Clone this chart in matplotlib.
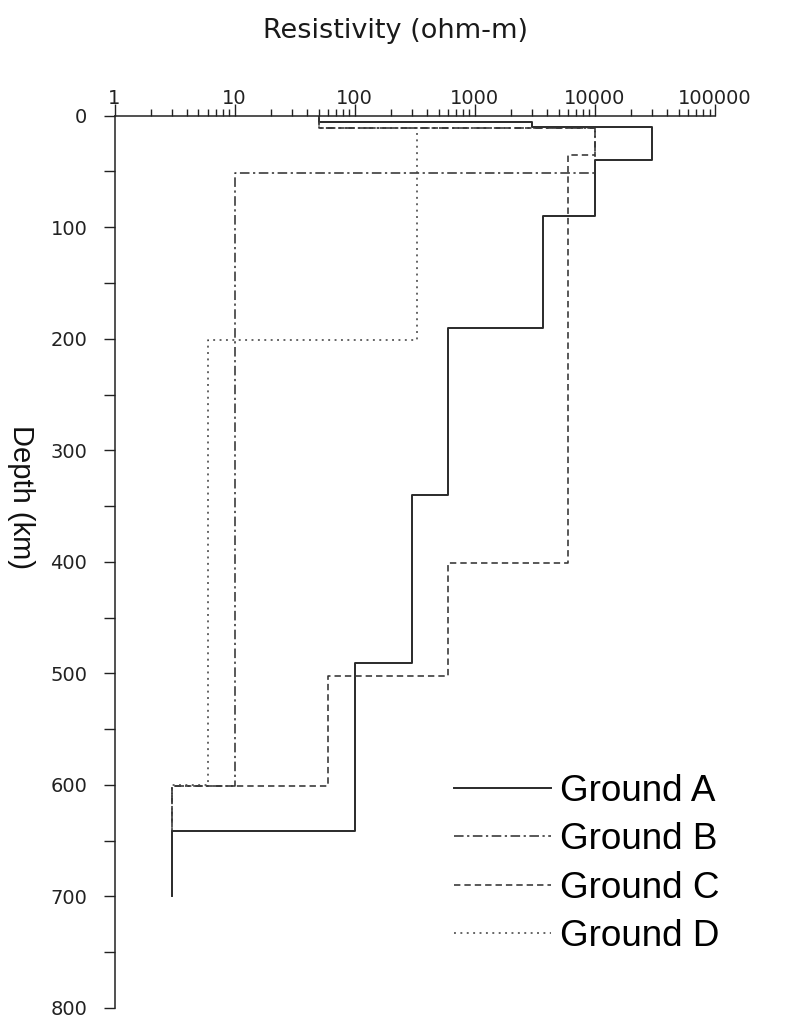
import numpy as np
import matplotlib.pyplot as plt
from matplotlib.ticker import FixedLocator, FixedFormatter, LogLocator, NullFormatter

# layer boundaries (km) and resistivity (ohm-m) of each layer
depth_a = [0, 5.5, 10, 40, 90, 190, 340, 491, 641, 700]
rho_a = [50, 3000, 30000, 10000, 3700, 600, 300, 100, 3]

depth_b = [0, 11, 51, 601, 641]
rho_b = [50, 10000, 10, 3]

depth_c = [0, 11, 35, 401, 502, 601, 641]
rho_c = [50, 10000, 6000, 600, 60, 3]

depth_d = [0, 11, 201, 600, 641]
rho_d = [50, 330, 6, 3]

labels = ["Ground A", "Ground B", "Ground C", "Ground D"]
x_ticks = [1, 10, 100, 1000, 10000, 100000]
x_ticklabels = ["1", "10", "100", "1000", "10000", "100000"]
y_ticks = [0, 100, 200, 300, 400, 500, 600, 700, 800]


def profile(depths, rho):
    # each layer -> vertical segment at its resistivity
    x = np.repeat(rho, 2)
    y = np.column_stack([depths[:-1], depths[1:]]).ravel()
    return x, y


fig = plt.figure(figsize=(7.86, 10.19), dpi=100)
ax = fig.add_axes([0.1457, 0.0108, 0.764, 0.8757])

styles = [
    dict(linestyle="-", color="#2a2a2a", linewidth=1.4),
    dict(linestyle=(0, (6, 2.2, 1.4, 2.2)), color="#333333", linewidth=1.15),
    dict(linestyle=(0, (4, 2.5)), color="#333333", linewidth=1.15),
    dict(linestyle=(0, (1.2, 2.8)), color="#444444", linewidth=1.15),
]
for (d, r), lab, st in zip([(depth_a, rho_a), (depth_b, rho_b), (depth_c, rho_c), (depth_d, rho_d)],
                           labels, styles):
    x, y = profile(d, r)
    ax.plot(x, y, label=lab, **st)

ax.set_xscale("log")
ax.set_xlim(1, 100000)
ax.set_ylim(800, 0)

ax.xaxis.tick_top()
ax.xaxis.set_major_locator(FixedLocator(x_ticks))
ax.xaxis.set_major_formatter(FixedFormatter(x_ticklabels))
ax.xaxis.set_minor_locator(LogLocator(base=10, subs=np.arange(2, 10)))
ax.xaxis.set_minor_formatter(NullFormatter())
ax.tick_params(axis="x", which="major", direction="out", length=8.5, width=1.0,
               pad=-3, labelsize=14, colors="#222222")
ax.tick_params(axis="x", which="minor", direction="out", length=5, width=1.0, colors="#222222")

ax.yaxis.set_major_locator(FixedLocator(y_ticks))
ax.yaxis.set_minor_locator(FixedLocator([50, 150, 250, 350, 450, 550, 650, 750]))
ax.tick_params(axis="y", which="both", direction="out", length=8, width=1.0,
               pad=11.5, labelsize=14, colors="#222222")

for side in ["right", "bottom"]:
    ax.spines[side].set_visible(False)
for side in ["left", "top"]:
    ax.spines[side].set_linewidth(1.1)
    ax.spines[side].set_color("#222222")

fig.text(0.503, 0.970, "Resistivity (ohm-m)", ha="center", va="center", fontsize=19.5, color="#1a1a1a")
fig.text(0.027, 0.512, "Depth (km)", ha="center", va="center", rotation=270,
         fontsize=21, family="Liberation Sans", color="#111111")

ax.legend(loc="upper left", bbox_to_anchor=(0.5776, 0.2405), bbox_transform=fig.transFigure,
          frameon=False, borderpad=0, borderaxespad=0, handlelength=2.62, handletextpad=0.24,
          labelspacing=0.36, prop={"family": "Liberation Sans", "size": 26.6})

fig.savefig("out.png", dpi=100)
